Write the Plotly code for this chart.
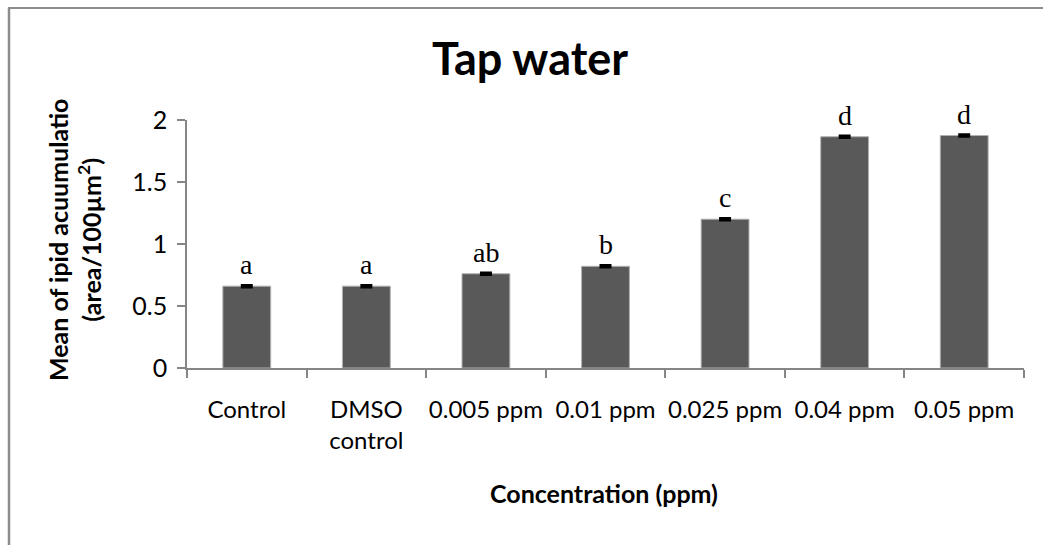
import plotly.graph_objects as go

# data
categories = ["Control", "DMSO<br>control", "0.005 ppm", "0.01 ppm", "0.025 ppm", "0.04 ppm", "0.05 ppm"]
means = [0.66, 0.66, 0.76, 0.82, 1.20, 1.865, 1.875]
errors = [0.008, 0.008, 0.008, 0.008, 0.008, 0.008, 0.008]
letters = ["a", "a", "ab", "b", "c", "d", "d"]
y_ticks = [0, 0.5, 1, 1.5, 2]

# page body margin is removed below, so figure pixels == screen pixels
W, H = 1043, 545
L, T = 187, 120
R = W - 1024
B = H - 368
PW, PH = W - L - R, H - T - B


def px_x(x):
    # screen pixel -> paper coordinate
    return (x - L) / PW


def px_y(y):
    return (H - B - y) / PH


SANS = "Lato, 'Open Sans', sans-serif"
SERIF = "'Liberation Serif', 'Times New Roman', serif"
AXIS_GRAY = "#868686"
FRAME_GRAY = "#8c8c8c"

fig = go.Figure(go.Bar(
    x=categories,
    y=means,
    width=0.4,
    marker=dict(color="#595959", line=dict(color="#b0b0b0", width=1)),
    error_y=dict(type="data", array=errors, visible=True,
                 color="black", thickness=2.5, width=6),
))

# significance letters above the bars
for cat, m, letter in zip(categories, means, letters):
    fig.add_annotation(
        x=cat, y=m, text=letter, showarrow=False,
        yanchor="bottom", yshift=4,
        font=dict(family=SERIF, size=28, color="black"),
    )

# axis titles
fig.add_annotation(
    xref="paper", yref="paper", x=px_x(74), y=px_y(240),
    text="<b>Mean of ipid acuumulatio<br>(area/100µm<sup>2</sup>)</b>",
    textangle=-90, showarrow=False, xanchor="center", yanchor="middle",
    font=dict(family=SANS, size=25, color="black"),
)
fig.add_annotation(
    xref="paper", yref="paper", x=px_x(604), y=px_y(493),
    text="<b>Concentration (ppm)</b>", showarrow=False,
    xanchor="center", yanchor="middle",
    font=dict(family=SANS, size=25, color="black"),
)

# outer chart frame: only the left and top edges are in view
fig.add_shape(type="line", xref="paper", yref="paper",
              x0=px_x(9), y0=px_y(8), x1=px_x(9), y1=px_y(560),
              line=dict(color=FRAME_GRAY, width=2.5))
fig.add_shape(type="line", xref="paper", yref="paper",
              x0=px_x(8), y0=px_y(8), x1=px_x(1060), y1=px_y(8),
              line=dict(color=FRAME_GRAY, width=2))

fig.update_layout(
    width=W, height=H,
    margin=dict(l=L, r=R, t=T, b=B, autoexpand=False),
    paper_bgcolor="white", plot_bgcolor="white",
    showlegend=False,
    title=dict(
        text="<b>Tap water</b>", xref="paper", x=px_x(530), xanchor="center",
        yref="container", y=1 - 59 / H, yanchor="middle",
        font=dict(family=SANS, size=45, color="black"),
    ),
    font=dict(family=SANS, color="black"),
)

fig.update_xaxes(
    type="category", range=[-0.5, 6.5], automargin=False, tickangle=0,
    showline=True, linecolor=AXIS_GRAY, linewidth=1.5,
    ticks="outside", tickson="boundaries", ticklen=8, tickcolor=AXIS_GRAY, tickwidth=1.5,
    ticklabelstandoff=19,
    tickfont=dict(family=SANS, size=24, color="black"),
    showgrid=False, zeroline=False,
)
fig.update_yaxes(
    range=[0, 2], tickvals=y_ticks, ticktext=[f"{v:g}" for v in y_ticks],
    automargin=False,
    showline=True, linecolor=AXIS_GRAY, linewidth=1.5,
    ticks="outside", ticklen=8, tickcolor=AXIS_GRAY, tickwidth=1.5,
    ticklabelstandoff=5,
    tickfont=dict(family=SANS, size=25, color="black"),
    showgrid=False, zeroline=False,
)

fig.write_html(
    "out.html",
    config={"displayModeBar": False},
    post_script="document.body.style.margin = '0';",
)
